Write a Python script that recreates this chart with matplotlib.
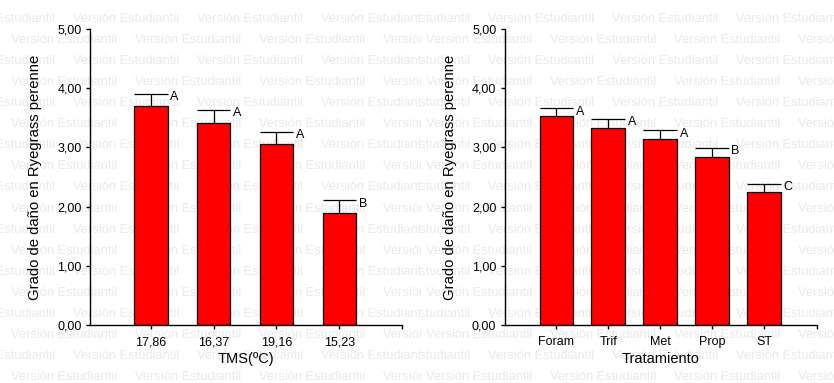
import matplotlib
matplotlib.use('Agg')
import matplotlib.pyplot as plt
from matplotlib.ticker import FuncFormatter
from matplotlib.transforms import Bbox

plt.rcParams['font.family'] = ['Liberation Sans', 'DejaVu Sans']

# temperatura media (TMS)
tms_labels = ['17,86', '16,37', '19,16', '15,23']
tms_mean = [3.70, 3.42, 3.05, 1.90]
tms_err = [0.21, 0.22, 0.21, 0.21]
tms_letters = ['A', 'A', 'A', 'B']

# tratamientos
trat_labels = ['Foram', 'Trif', 'Met', 'Prop', 'ST']
trat_mean = [3.53, 3.32, 3.15, 2.84, 2.25]
trat_err = [0.13, 0.16, 0.14, 0.15, 0.14]
trat_letters = ['A', 'A', 'A', 'B', 'C']

W, H = 834, 383
fig = plt.figure(figsize=(W / 100, H / 100), dpi=100)

# marca de agua, por detras de los ejes
def marca_agua(x0, x1, startA, startB):
    clip = Bbox.from_extents(x0, 0, x1, H)
    for k in range(18):
        y = 19 + k * 21.06
        start = startA if k % 2 == 0 else startB
        x = start
        while x < x1:
            t = fig.text(x / W, 1 - y / H, 'Versión Estudiantil', fontsize=9.3,
                         color='#e9e9e9', ha='left', va='center', zorder=-5)
            t.set_clip_box(clip)
            t.set_clip_on(True)
            x += 124

marca_agua(0, 421, -51, 11)
marca_agua(421, W, 364, 426)

def fmt(v, pos):
    return ('%.2f' % v).replace('.', ',')

def panel(rect, labels, mean, err, letters, xlim, width, xlabel):
    ax = fig.add_axes(rect)
    ax.set_zorder(1)
    ax.patch.set_alpha(0)
    x = list(range(len(labels)))
    ax.bar(x, mean, width=width, color='#ff0000', edgecolor='black', linewidth=0.9, zorder=2)
    tops = [m + e for m, e in zip(mean, err)]
    ax.vlines(x, mean, tops, color='black', linewidth=0.9, zorder=3)
    ax.hlines(tops, [i - width / 2 for i in x], [i + width / 2 for i in x],
              color='black', linewidth=0.9, zorder=3)
    for i, (t, l) in enumerate(zip(tops, letters)):
        ax.annotate(l, (i + width / 2, t), xytext=(2, -2.5), textcoords='offset points',
                    ha='left', va='center', fontsize=9)
    ax.set_xlim(*xlim)
    ax.set_ylim(0, 5)
    ax.set_yticks([0, 1, 2, 3, 4, 5])
    ax.yaxis.set_major_formatter(FuncFormatter(fmt))
    ax.set_xticks(x)
    ax.set_xticklabels(labels)
    ax.set_xticks([xlim[1]], minor=True)
    for s in ['top', 'right']:
        ax.spines[s].set_visible(False)
    for s in ['left', 'bottom']:
        ax.spines[s].set_linewidth(1.0)
    ax.tick_params(axis='both', which='both', length=3, width=1.0, labelsize=9)
    ax.tick_params(axis='x', pad=5)
    ax.tick_params(axis='y', pad=3)
    ax.set_xlabel(xlabel, fontsize=10.5, labelpad=3)
    ax.set_ylabel('Grado de daño en Ryegrass perenne', fontsize=10.7)
    ax.yaxis.set_label_coords(-0.154, 0.5)
    return ax

panel([90 / W, 58 / H, 312 / W, 296 / H], tms_labels, tms_mean, tms_err, tms_letters,
      (-0.97, 4.0), 0.53, 'TMS(ºC)')
panel([504.7 / W, 58 / H, 312.3 / W, 296 / H], trat_labels, trat_mean, trat_err, trat_letters,
      (-0.99, 5.02), 0.64, 'Tratamiento')

fig.savefig('out.png', dpi=100)
